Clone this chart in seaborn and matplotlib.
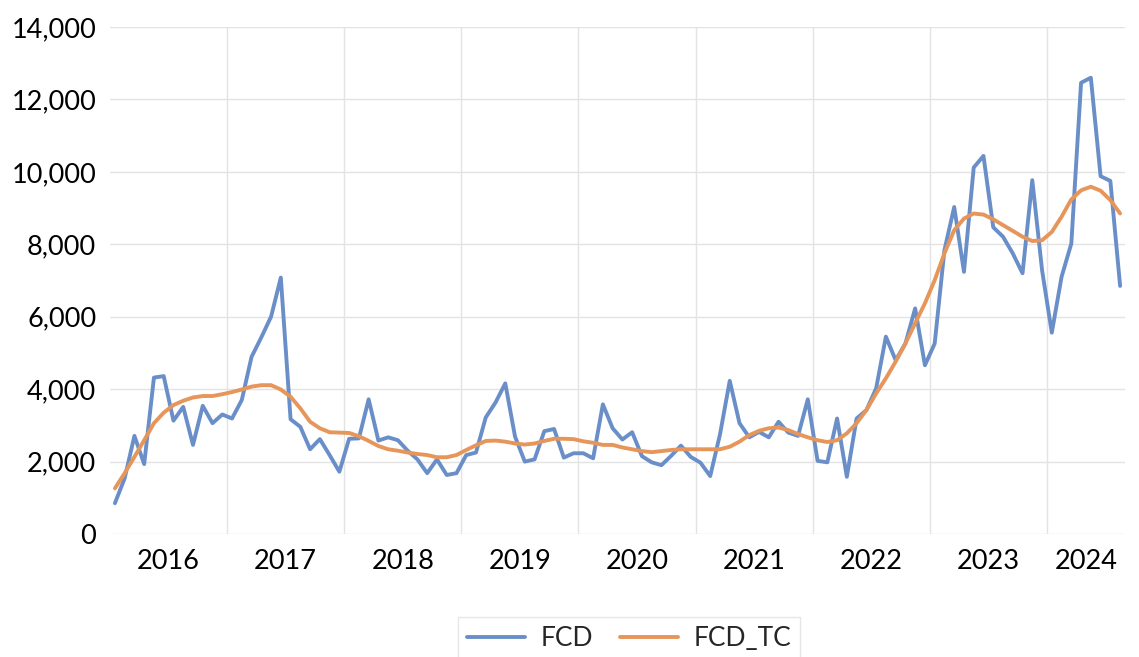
import numpy as np
import pandas as pd
import matplotlib
matplotlib.use("Agg")
import matplotlib.pyplot as plt
import seaborn as sns

# monthly series, Jan 2016 .. Aug 2024
months = pd.date_range("2016-01-01", "2024-08-01", freq="MS")

fcd = [
    850, 1540, 2710, 1930, 4320, 4360, 3130, 3510, 2460, 3540, 3060, 3300,
    3190, 3700, 4890, 5430, 6000, 7080, 3170, 2960, 2340, 2620, 2180, 1720,
    2630, 2640, 3720, 2580, 2670, 2590, 2300, 2060, 1680, 2060, 1630, 1680,
    2180, 2250, 3220, 3630, 4160, 2690, 2000, 2060, 2840, 2900, 2110, 2230,
    2230, 2090, 3580, 2920, 2610, 2810, 2150, 1980, 1900, 2160, 2440, 2130,
    1970, 1600, 2750, 4230, 3060, 2670, 2820, 2670, 3100, 2800, 2710, 3720,
    2020, 1980, 3190, 1580, 3190, 3420, 4020, 5450, 4800, 5260, 6230, 4660,
    5260, 7840, 9030, 7240, 10120, 10440, 8470, 8210, 7750, 7200, 9770, 7290,
    5560, 7100, 8020, 12460, 12600, 9880, 9750, 6850,
]

fcd_tc = [
    1260, 1680, 2130, 2590, 3060, 3350, 3560, 3680, 3770, 3810, 3810, 3860,
    3920, 3990, 4070, 4110, 4110, 3990, 3790, 3470, 3100, 2920, 2810, 2800,
    2790, 2700, 2570, 2430, 2340, 2300, 2250, 2210, 2180, 2120, 2120, 2180,
    2320, 2450, 2570, 2580, 2550, 2500, 2470, 2500, 2570, 2630, 2630, 2620,
    2560, 2520, 2460, 2460, 2390, 2340, 2290, 2260, 2290, 2320, 2340, 2340,
    2340, 2340, 2340, 2410, 2550, 2730, 2850, 2920, 2940, 2870, 2760, 2670,
    2590, 2540, 2590, 2780, 3060, 3420, 3880, 4300, 4760, 5260, 5820, 6370,
    7010, 7750, 8390, 8710, 8850, 8820, 8690, 8530, 8370, 8210, 8090, 8110,
    8340, 8760, 9240, 9490, 9590, 9480, 9220, 8850,
]

years = ["2016", "2017", "2018", "2019", "2020", "2021", "2022", "2023", "2024"]

df = pd.DataFrame({"idx": np.arange(len(months)), "FCD": fcd, "FCD_TC": fcd_tc})
long = df.melt(id_vars="idx", var_name="series", value_name="value")

sns.set_style("white")
plt.rcParams["font.family"] = ["Lato", "DejaVu Sans"]

blue, orange = "#6a8fc8", "#e6965a"

fig = plt.figure(figsize=(11.39, 6.57), dpi=100)
ax = fig.add_axes([0.0966, 0.1872, 0.8911, 0.7717])

sns.lineplot(data=long, x="idx", y="value", hue="series",
             palette={"FCD": blue, "FCD_TC": orange},
             linewidth=2.8, ax=ax, legend=False)

ax.set_xlim(-0.5, len(months) - 0.5)
ax.set_ylim(0, 14000)
ax.set_yticks(np.arange(0, 14001, 2000))
ax.set_yticklabels([f"{v:,}" for v in range(0, 14001, 2000)])

# year boundaries as gridlines, labels centred on each year
for k in range(1, len(years)):
    ax.axvline(12 * k - 0.5, color="#e3e3e3", lw=1.0, zorder=0)
centers = [(12 * k + min(12 * k + 11, len(months) - 1)) / 2 for k in range(len(years))]
ax.set_xticks(centers)
ax.set_xticklabels(years)

ax.grid(axis="y", color="#e3e3e3", lw=1.0)
ax.set_axisbelow(True)
for s in ax.spines.values():
    s.set_visible(False)
ax.tick_params(axis="both", length=0, labelsize=19.5, colors="black")
ax.tick_params(axis="x", pad=11)
ax.tick_params(axis="y", pad=10)
ax.set_xlabel("")
ax.set_ylabel("")

handles = [plt.Line2D([], [], color=blue, lw=2.8),
           plt.Line2D([], [], color=orange, lw=2.8)]
leg = fig.legend(handles, ["FCD", "FCD_TC"], loc="upper center",
                 bbox_to_anchor=(0.5522, 0.081), ncol=2, fontsize=19,
                 frameon=True, fancybox=False, handlelength=2.2,
                 handletextpad=0.6, columnspacing=1.0, borderpad=0.35)
leg.get_frame().set_edgecolor("#e0e0e0")
leg.get_frame().set_linewidth(1.0)

fig.savefig("out.png", dpi=100)
